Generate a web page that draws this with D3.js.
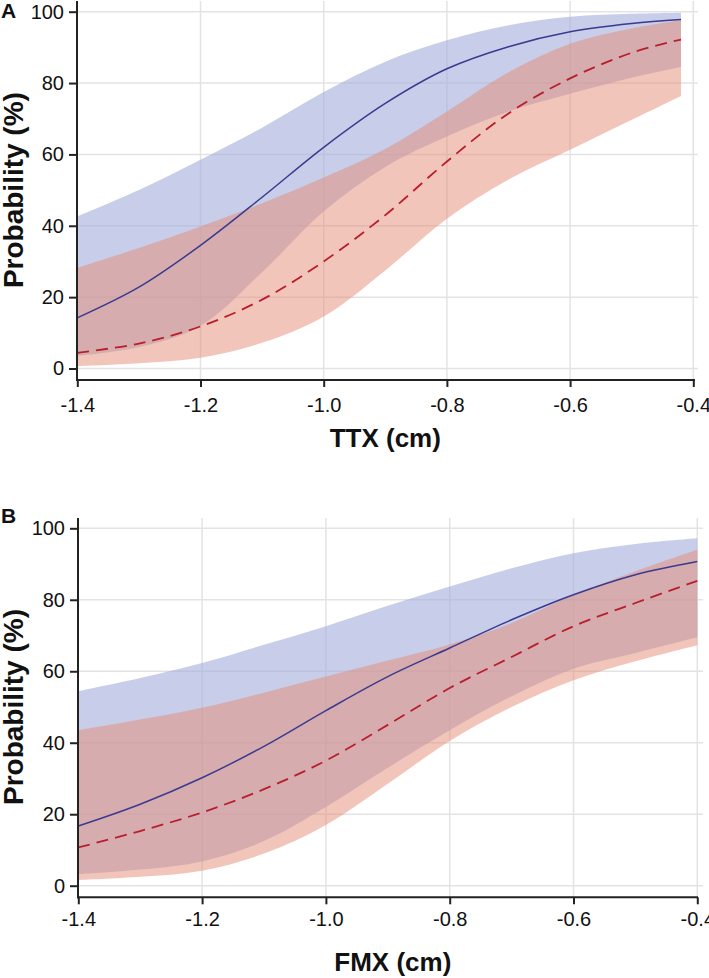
<!DOCTYPE html>
<html>
<head>
<meta charset="utf-8">
<script src="https://cdn.jsdelivr.net/npm/d3@7"></script>
<style>
  html, body { margin: 0; padding: 0; background: #fff; }
  svg { display: block; }
  text { font-family: "Liberation Sans", Arial, Helvetica, sans-serif; }
</style>
</head>
<body>
<svg id="chart" width="709" height="978"></svg>
<script>
// ---------- DATA ----------
const xTicks = [-1.4, -1.2, -1.0, -0.8, -0.6, -0.4];
const xTickLabels = ["-1.4", "-1.2", "-1.0", "-0.8", "-0.6", "-0.4"];
const yTicks = [0, 20, 40, 60, 80, 100];

// Panel A (TTX)
const xA      = [-1.4, -1.3, -1.2, -1.1, -1.0, -0.9, -0.8, -0.7, -0.6, -0.5, -0.42];
const blueA   = [14.2, 22.8, 34.5, 48.0, 62.0, 74.3, 84.0, 90.2, 94.4, 96.7, 97.8];
const blueALo = [3.5, 6.0, 12.0, 27.0, 44.0, 56.5, 65.0, 72.0, 77.0, 81.5, 84.5];
const blueAHi = [42.6, 50.0, 58.5, 67.5, 77.5, 86.0, 92.0, 96.2, 98.6, 99.4, 99.7];
const redA    = [4.4, 7.0, 11.8, 19.3, 30.0, 43.0, 58.0, 71.5, 81.3, 88.5, 92.2];
const redALo  = [0.7, 1.5, 3.0, 7.2, 14.6, 27.5, 42.0, 53.0, 61.3, 69.7, 76.4];
const redAHi  = [28.2, 33.8, 39.8, 46.3, 53.5, 61.5, 72.0, 83.0, 91.0, 95.3, 97.6];

// Panel B (FMX)
const xB      = [-1.4, -1.3, -1.2, -1.1, -1.0, -0.9, -0.8, -0.7, -0.6, -0.5, -0.4];
const blueB   = [16.7, 22.8, 30.2, 39.0, 49.0, 58.5, 66.5, 74.4, 81.4, 87.0, 90.7];
const blueBLo = [3.2, 4.5, 6.8, 12.5, 22.0, 33.0, 43.5, 53.0, 60.7, 65.1, 69.5];
const blueBHi = [54.4, 58.1, 62.3, 67.4, 72.6, 78.3, 83.7, 88.8, 93.0, 95.6, 97.2];
const redB    = [10.7, 15.3, 20.5, 27.0, 35.0, 45.0, 55.3, 64.0, 72.6, 79.1, 85.3];
const redBLo  = [1.6, 2.5, 4.2, 9.0, 17.0, 28.5, 40.5, 50.0, 57.5, 62.8, 67.3];
const redBHi  = [43.5, 46.5, 49.8, 54.0, 58.5, 63.0, 67.5, 73.5, 81.4, 88.0, 94.0];

// ---------- DRAW ----------
const svg = d3.select("#chart");

function panel(cfg) {
  const g = svg.append("g");
  const x = d3.scaleLinear().domain([-1.4, -0.4]).range([cfg.x0, cfg.x1]);
  const y = d3.scaleLinear().domain([0, 100]).range([cfg.y0, cfg.y100]);

  // gridlines
  const grid = g.append("g").attr("stroke", "#e3e3e3").attr("stroke-width", 1.5);
  yTicks.forEach(t => grid.append("line")
    .attr("x1", cfg.left).attr("x2", cfg.right)
    .attr("y1", y(t)).attr("y2", y(t)));
  xTicks.forEach(t => grid.append("line")
    .attr("x1", x(t)).attr("x2", x(t))
    .attr("y1", cfg.top).attr("y2", cfg.bottom));

  const blueData = cfg.xs.map((v, i) => ({x: v, lo: cfg.bLo[i], hi: cfg.bHi[i], m: cfg.b[i]}));
  const redData  = cfg.xs.map((v, i) => ({x: v, lo: cfg.rLo[i], hi: cfg.rHi[i], m: cfg.r[i]}));

  const curve = d3.curveCatmullRom.alpha(0.5);
  const area = d3.area().curve(curve)
    .x(d => x(d.x)).y0(d => y(d.lo)).y1(d => y(d.hi));
  const line = d3.line().curve(curve)
    .x(d => x(d.x)).y(d => y(d.m));

  g.append("path").datum(blueData).attr("d", area)
    .attr("fill", "rgb(163,171,218)").attr("fill-opacity", 0.6);
  g.append("path").datum(redData).attr("d", area)
    .attr("fill", "rgb(229,139,117)").attr("fill-opacity", 0.5);

  g.append("path").datum(blueData).attr("d", line)
    .attr("fill", "none").attr("stroke", "#3a3a8e").attr("stroke-width", 1.5);
  g.append("path").datum(redData).attr("d", line)
    .attr("fill", "none").attr("stroke", "#b81f2c").attr("stroke-width", 1.8)
    .attr("stroke-dasharray", "12,7");

  // axes
  const xAxis = d3.axisBottom(x).tickValues(xTicks)
    .tickFormat((d, i) => xTickLabels[i]).tickSize(7).tickSizeOuter(0).tickPadding(cfg.xPad);
  const yAxis = d3.axisLeft(y).tickValues(yTicks).tickSize(8).tickSizeOuter(0).tickPadding(5);

  const gx = g.append("g").attr("transform", `translate(0,${cfg.bottom})`).call(xAxis);
  const gy = g.append("g").attr("transform", `translate(${cfg.left},0)`).call(yAxis);
  [gx, gy].forEach(a => {
    a.select(".domain").remove();
    a.selectAll(".tick line").attr("stroke", "#222").attr("stroke-width", 2);
    a.selectAll(".tick text").attr("fill", "#111").style("font-size", "20px")
      .style("font-family", "'Liberation Sans', Arial, sans-serif");
  });
  // spines
  g.append("line").attr("x1", cfg.left).attr("x2", cfg.left)
    .attr("y1", cfg.top).attr("y2", cfg.bottom + 1)
    .attr("stroke", "#222").attr("stroke-width", 2);
  g.append("line").attr("x1", cfg.left - 1).attr("x2", cfg.axisRight)
    .attr("y1", cfg.bottom).attr("y2", cfg.bottom)
    .attr("stroke", "#222").attr("stroke-width", 2);

  // titles
  g.append("text").attr("x", (cfg.x0 + cfg.x1) / 2 + cfg.titleDx).attr("y", cfg.titleY)
    .attr("text-anchor", "middle").style("font-size", "26px").style("font-weight", "bold")
    .attr("fill", "#111").text(cfg.xTitle);
  g.append("text")
    .attr("transform", `translate(23,${(cfg.y0 + cfg.y100) / 2}) rotate(-90)`)
    .attr("text-anchor", "middle").style("font-size", "28px").style("font-weight", "bold")
    .attr("fill", "#111").text("Probability (%)");
  g.append("text").attr("x", 1).attr("y", cfg.labelY)
    .style("font-size", "21px").style("font-weight", "bold").attr("fill", "#111").text(cfg.label);
}

panel({
  label: "A", labelY: 18, xTitle: "TTX (cm)", titleY: 447, titleDx: 0,
  x0: 77.3, x1: 693.3, y0: 368.5, y100: 11.7,
  left: 77, right: 698, top: 1, bottom: 380, axisRight: 695, xPad: 11,
  xs: xA, b: blueA, bLo: blueALo, bHi: blueAHi, r: redA, rLo: redALo, rHi: redAHi
});
panel({
  label: "B", labelY: 523, xTitle: "FMX (cm)", titleY: 971, titleDx: 5,
  x0: 78.3, x1: 697.3, y0: 885.7, y100: 528.3,
  left: 78, right: 703, top: 518, bottom: 897.3, axisRight: 698, xPad: 8,
  xs: xB, b: blueB, bLo: blueBLo, bHi: blueBHi, r: redB, rLo: redBLo, rHi: redBHi
});
</script>
</body>
</html>
